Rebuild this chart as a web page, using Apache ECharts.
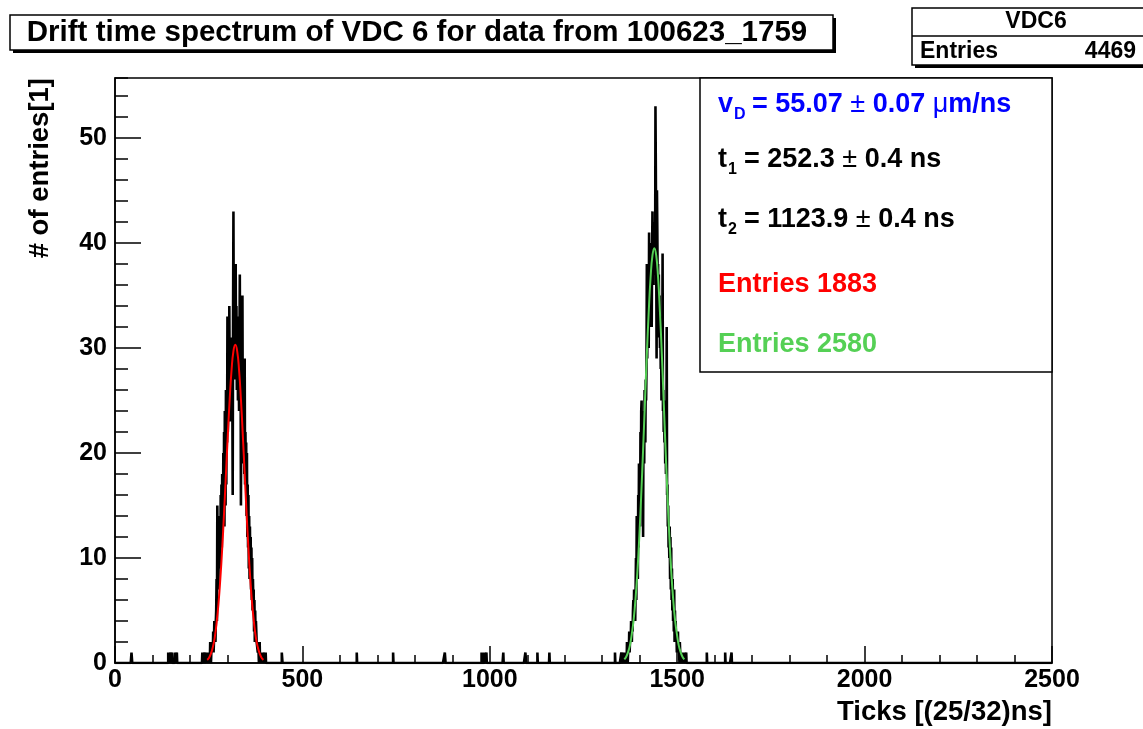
<!DOCTYPE html>
<html>
<head>
<meta charset="utf-8">
<script src="https://cdn.jsdelivr.net/npm/echarts@6/dist/echarts.min.js"></script>
<style>
html,body{margin:0;padding:0;background:#fff;}
#chart{width:1143px;height:729px;}
</style>
</head>
<body>
<div id="chart"></div>
<script>
// ---- data ----
const titleText = "Drift time spectrum of VDC 6 for data from 100623_1759";
const statsName = "VDC6";
const statsEntries = "4469";
const xTitle = "Ticks [(25/32)ns]";
const yTitle = "# of entries[1]";
const xMin = 0, xMax = 2500, xMajor = 500;
const yMin = 0, yMax = 55.7, yMajor = 10, yMinor = 2;
const nBins = 2500;

// peak 1 (bins of width 1, first bin = 240)
const peak1Start = 240;
const peak1Counts = [
  0,0,1,0,0,1,0,0,1,0,
  1,0,1,0,2,1,0,1,2,1,
  2,1,3,1,2,4,2,3,2,4,
  5,8,4,15,9,12,7,13,10,12,
  14,9,16,12,17,11,18,15,13,20,
  14,22,13,24,18,15,26,17,25,21,
  33,22,24,27,25,34,26,23,30,28,
  27,31,29,26,16,33,43,30,28,32,
  31,27,38,29,34,26,30,33,25,31,
  28,24,30,37,26,29,15,27,23,25,
  35,21,27,19,25,18,29,17,22,19,
  21,14,20,12,17,11,16,9,14,8,
  13,8,12,7,11,6,10,5,8,6,
  7,3,6,2,5,3,4,3,2,2,
  2,1,2,1,0,1,2,0,1,0,
  1,0,0,1,0,1,0,0,0,1,
  0,0,1,0,0,0
];
// peak 2 (first bin = 1350)
const peak2Start = 1350;
const peak2Counts = [
  0,1,0,0,0,1,0,0,1,0,
  0,1,0,1,1,0,2,1,0,1,
  2,1,3,1,2,3,2,4,3,2,
  4,3,5,6,4,7,5,6,4,7,
  10,6,14,9,13,8,16,11,19,14,
  18,13,22,16,24,25,17,23,19,12,
  22,24,19,26,23,21,27,25,28,38,
  29,33,31,36,30,41,34,37,32,38,
  35,40,32,39,43,37,41,36,42,38,
  40,37,53,47,39,29,45,41,36,38,
  34,37,31,35,30,33,28,32,25,29,
  27,39,24,26,22,25,21,23,19,22,
  18,20,32,16,17,13,15,11,12,10,
  13,8,12,7,11,6,9,5,8,4,
  6,3,7,2,5,3,4,2,3,1,
  2,1,3,1,2,1,0,2,1,1,
  0,1,1,0,1,0,0,1,0,0,
  1,0,0,0,1,0,0,0,0,0
];
// isolated bins holding a single entry
const singleEntryBins = [44,45,142,148,152,160,165,233,238,445,446,645,742,880,881,978,985,991,1036,1095,1096,1127,1159,1334,1579,1628,1645];

const fit1Start = 246, fit1Step = 5;
const fit1Values = [0.3,0.5,0.9,1.5,2.4,3.8,5.6,8.0,10.9,14.3,18.0,21.7,25.1,27.9,29.7,30.3,29.7,27.9,25.1,21.7,18.0,14.3,10.9,8.0,5.6,3.8,2.4,1.5,0.9,0.5,0.3];
const fit2Start = 1359, fit2Step = 5;
const fit2Values = [0.35,0.6,1.05,1.7,2.8,4.2,6.2,8.8,12.1,16.0,20.3,24.9,29.4,33.4,36.7,38.8,39.5,38.8,36.7,33.4,29.4,24.9,20.3,16.0,12.1,8.8,6.2,4.2,2.8,1.7,1.05,0.6,0.35];

const fitLines = [
  {sub:"D", main:"v", rest:["= 55.07 ", "±", " 0.07 ", "μ", "m/ns"], color:"#0000ff"},
  {sub:"1", main:"t", rest:["= 252.3 ", "±", " 0.4 ns"], color:"#000000"},
  {sub:"2", main:"t", rest:["= 1123.9 ", "±", " 0.4 ns"], color:"#000000"}
];
const entriesLines = [
  {text:"Entries 1883", color:"#ff0000"},
  {text:"Entries 2580", color:"#55d055"}
];

// ---- build series data ----
const counts = new Array(nBins).fill(0);
peak1Counts.forEach((c,i)=>{counts[peak1Start+i]=c;});
peak2Counts.forEach((c,i)=>{counts[peak2Start+i]=c;});
singleEntryBins.forEach(b=>{counts[b]=1;});
const histData = counts.map((c,i)=>[i,c]);
histData.push([nBins,0]);
const fit1Data = fit1Values.map((v,i)=>[fit1Start+i*fit1Step,v]);
const fit2Data = fit2Values.map((v,i)=>[fit2Start+i*fit2Step,v]);

const FONT = '"Liberation Sans", Arial, Helvetica, sans-serif';
const chart = echarts.init(document.getElementById('chart'), null, {renderer:'canvas'});

// layout
const G = {left:115, top:78, right:1052, bottom:663};

const graphics = [];
// title box with shadow
graphics.push({type:'rect', shape:{x:13,y:18,width:823,height:35}, style:{fill:'#000'}, z:100});
graphics.push({type:'rect', shape:{x:10,y:15,width:823,height:35}, style:{fill:'#fff',stroke:'#000',lineWidth:1.5}, z:101});
graphics.push({type:'text', x:417, y:33, style:{text:titleText, fill:'#000', font:'bold 29.5px '+FONT, textAlign:'center', textVerticalAlign:'middle'}, z:102});
// stats box
graphics.push({type:'rect', shape:{x:915,y:11,width:240,height:57}, style:{fill:'#000'}, z:100});
graphics.push({type:'rect', shape:{x:912,y:8,width:240,height:57}, style:{fill:'#fff',stroke:'#000',lineWidth:1.5}, z:101});
graphics.push({type:'line', shape:{x1:912,y1:36,x2:1152,y2:36}, style:{stroke:'#000',lineWidth:1.5}, z:102});
graphics.push({type:'text', x:1036, y:22, style:{text:statsName, fill:'#000', font:'bold 23px '+FONT, textAlign:'center', textVerticalAlign:'middle'}, z:102});
graphics.push({type:'text', x:920, y:52, style:{text:'Entries', fill:'#000', font:'bold 23px '+FONT, textAlign:'left', textVerticalAlign:'middle'}, z:102});
graphics.push({type:'text', x:1136, y:52, style:{text:statsEntries, fill:'#000', font:'bold 23px '+FONT, textAlign:'right', textVerticalAlign:'middle'}, z:102});
// fit results box
graphics.push({type:'rect', shape:{x:700,y:G.top,width:G.right-700,height:372-G.top}, style:{fill:'#fff',stroke:'#000',lineWidth:1.5}, z:100});
const lineY = [105,160,220];
fitLines.forEach((l,i)=>{
  const y = lineY[i];
  const mainW = l.main==='v' ? 15 : 9;
  graphics.push({type:'text', x:718, y:y, style:{text:l.main, fill:l.color, font:'bold 27px '+FONT, textAlign:'left', textVerticalAlign:'middle'}, z:102});
  graphics.push({type:'text', x:718+mainW+1, y:y+10, style:{text:l.sub, fill:l.color, font:'bold 16px '+FONT, textAlign:'left', textVerticalAlign:'middle'}, z:102});
  const startX = l.main==='v' ? 752 : 744;
  const rich = {b:{fontSize:27,fontWeight:'bold',fontFamily:FONT,fill:l.color,color:l.color}, s:{fontSize:27,fontWeight:'normal',fontFamily:FONT,fill:l.color,color:l.color}};
  const txt = l.rest.map(p=> (p==='±'||p==='μ') ? '{s|'+p+'}' : '{b|'+p+'}').join('');
  graphics.push({type:'text', x:startX, y:y, style:{text:txt, rich:rich, fill:l.color, font:'bold 27px '+FONT, textAlign:'left', textVerticalAlign:'middle'}, z:102});
});
const entY = [285,345];
entriesLines.forEach((e,i)=>{
  graphics.push({type:'text', x:718, y:entY[i], style:{text:e.text, fill:e.color, font:'bold 27px '+FONT, textAlign:'left', textVerticalAlign:'middle'}, z:102});
});
// axis titles
graphics.push({type:'text', x:G.right, y:712, style:{text:xTitle, fill:'#000', font:'bold 27.5px '+FONT, textAlign:'right', textVerticalAlign:'middle'}, z:102});
graphics.push({type:'text', x:40, y:G.top, rotation:Math.PI/2, style:{text:yTitle, fill:'#000', font:'bold 27.5px '+FONT, textAlign:'right', textVerticalAlign:'middle'}, z:102});

const option = {
  animation:false,
  backgroundColor:'#fff',
  grid:{left:G.left, top:G.top, width:G.right-G.left, height:G.bottom-G.top, show:true, borderColor:'#000', borderWidth:1.5, backgroundColor:'#fff'},
  xAxis:{
    type:'value', min:xMin, max:xMax, interval:xMajor,
    axisLine:{show:true, onZero:false, lineStyle:{color:'#000',width:1.5}},
    axisTick:{show:true, inside:true, length:17, lineStyle:{color:'#000',width:1.5}},
    minorTick:{show:true, splitNumber:5, length:8, lineStyle:{color:'#000',width:1.5}},
    splitLine:{show:false},
    axisLabel:{show:true, margin:5, color:'#000', fontSize:25, fontWeight:'bold', fontFamily:FONT, formatter:v=>String(v)}
  },
  yAxis:[{
    type:'value', min:yMin, max:yMax, interval:yMajor,
    axisLine:{show:true, lineStyle:{color:'#000',width:1.5}},
    axisTick:{show:true, inside:true, length:26, lineStyle:{color:'#000',width:1.5}},
    splitLine:{show:false},
    axisLabel:{show:true, margin:8, color:'#000', fontSize:25, fontWeight:'bold', fontFamily:FONT, showMaxLabel:false,
      formatter:v=> (v%yMajor===0 ? String(v) : '')}
  },{
    type:'value', min:yMin, max:yMax, interval:yMinor, position:'left',
    axisLine:{show:false},
    axisTick:{show:true, inside:true, length:13, lineStyle:{color:'#000',width:1.5}},
    splitLine:{show:false},
    axisLabel:{show:false}
  }],
  series:[
    {type:'line', name:'hist', data:histData, step:'end', symbol:'none', showSymbol:false,
      lineStyle:{color:'#000', width:2.6}, xAxisIndex:0, yAxisIndex:0, z:2, silent:true},
    {type:'line', name:'fit1', data:fit1Data, smooth:true, symbol:'none', showSymbol:false,
      lineStyle:{color:'#ff0000', width:2}, xAxisIndex:0, yAxisIndex:0, z:3, silent:true},
    {type:'line', name:'fit2', data:fit2Data, smooth:true, symbol:'none', showSymbol:false,
      lineStyle:{color:'#55d055', width:2}, xAxisIndex:0, yAxisIndex:0, z:3, silent:true}
  ],
  graphic:graphics
};
chart.setOption(option);
</script>
</body>
</html>
